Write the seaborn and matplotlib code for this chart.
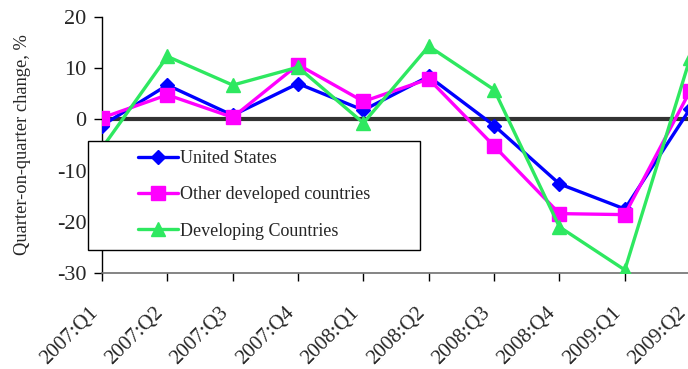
import matplotlib
matplotlib.use("Agg")
import matplotlib.pyplot as plt
import matplotlib.transforms as mtransforms
from matplotlib.patches import Rectangle
import numpy as np
import pandas as pd
import seaborn as sns

quarters = ["2007:Q1", "2007:Q2", "2007:Q3", "2007:Q4", "2008:Q1",
            "2008:Q2", "2008:Q3", "2008:Q4", "2009:Q1", "2009:Q2"]
united_states = [-1.2, 6.7, 0.8, 7.0, 1.8, 8.4, -1.2, -12.6, -17.5, 2.1]
other_developed = [0.3, 4.8, 0.4, 10.7, 3.5, 7.9, -5.2, -18.4, -18.6, 5.6]
developing = [-5.6, 12.3, 6.7, 10.2, -0.7, 14.3, 5.8, -21.0, -29.4, 12.0]
series_names = ["United States", "Other developed countries", "Developing Countries"]
y_ticks = [-30, -20, -10, 0, 10, 20]

df = pd.DataFrame({
    "pos": np.tile(np.arange(len(quarters)), 3),
    "value": united_states + other_developed + developing,
    "series": np.repeat(series_names, len(quarters)),
})

sns.set_style("white")
plt.rcParams["font.family"] = ["Liberation Serif", "DejaVu Serif"]

W, H = 688, 369
fig = plt.figure(figsize=(W / 100, H / 100), dpi=100)

x_step = 65.35
left_px, bottom_px, top_px = 102, 273, 17
x_max = 9.6
ax = fig.add_axes([left_px / W, 1 - bottom_px / H,
                   x_max * x_step / W, (bottom_px - top_px) / H])

# reference line at zero
ax.axhline(0, color="#333333", lw=3.0, zorder=1)

styles = {
    "United States": dict(color="#0000FF", marker="D", markersize=7.5),
    "Other developed countries": dict(color="#FF00FF", marker="s", markersize=9.5),
    "Developing Countries": dict(color="#2EE860", marker="^", markersize=10.5),
}
for name in series_names:
    st = styles[name]
    sub = df[df["series"] == name]
    sns.lineplot(data=sub, x="pos", y="value", ax=ax, color=st["color"],
                 marker=st["marker"], markersize=st["markersize"],
                 markeredgecolor=st["color"], markeredgewidth=1,
                 lw=2.4, legend=False, zorder=3, label=name)

ax.set_xlim(0, x_max)
ax.set_ylim(-30, 20)
ax.set_yticks(y_ticks)
ax.set_yticklabels([str(v) for v in y_ticks], fontsize=16)
ax.set_xticks(range(len(quarters)))
ax.set_xticklabels(quarters, fontsize=15, rotation=45, ha="right", va="top")
shift = mtransforms.ScaledTranslation(-7 / 100, 0, fig.dpi_scale_trans)
for lbl in ax.get_xticklabels():
    lbl.set_transform(lbl.get_transform() + shift)

ax.tick_params(axis="x", direction="out", length=6, width=1, color="black",
               pad=16, bottom=True)
ax.tick_params(axis="y", direction="out", length=6, width=1, color="black",
               pad=5, left=True)
ax.set_xlabel("")
ax.set_ylabel("Quarter-on-quarter change, %", fontsize=13.3, labelpad=19)

for side in ["top", "right"]:
    ax.spines[side].set_visible(False)
ax.spines["left"].set_color("black")
ax.spines["left"].set_linewidth(1)
ax.spines["bottom"].set_color("#707070")
ax.spines["bottom"].set_linewidth(1.2)

# legend box
box = Rectangle((88 / W, 1 - 250 / H), (420 - 88) / W, (250 - 141) / H,
                transform=fig.transFigure, facecolor="white",
                edgecolor="black", lw=1, zorder=4)
fig.patches.append(box)

handles = ax.lines[1:]
leg = fig.legend(handles, series_names, loc="upper left",
                 bbox_to_anchor=(138 / W, 1 - 150 / H), frameon=False,
                 fontsize=13, handlelength=2.2, handletextpad=0.15,
                 labelspacing=1.07, borderpad=0, borderaxespad=0,
                 numpoints=1)
leg.set_zorder(5)

fig.savefig("out.png", dpi=100)
